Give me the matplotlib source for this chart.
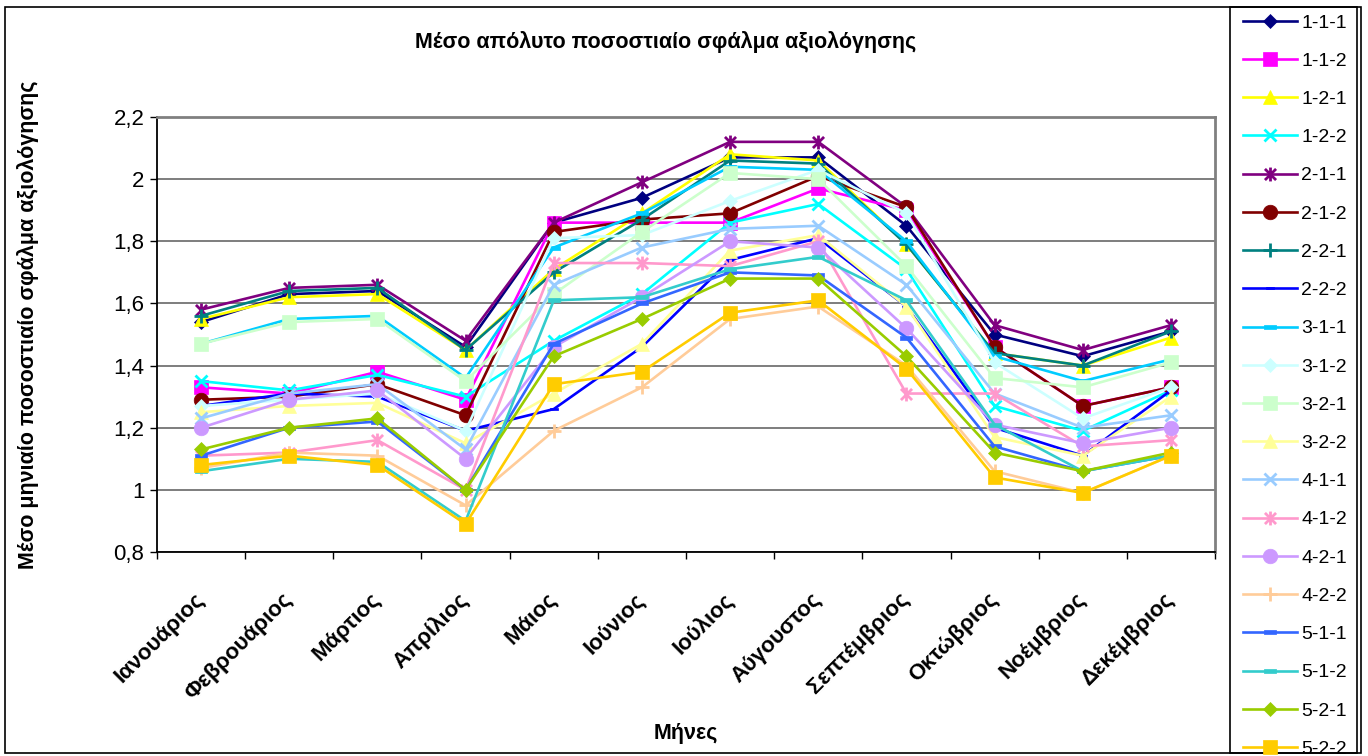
import matplotlib
matplotlib.use("Agg")
import matplotlib.pyplot as plt
import matplotlib.patches as patches
from matplotlib.path import Path
from matplotlib.ticker import FuncFormatter, FixedLocator

plt.rcParams['font.family'] = ['Liberation Sans', 'DejaVu Sans']

# data
months = ['Ιανουάριος', 'Φεβρουάριος', 'Μάρτιος', 'Απρίλιος', 'Μάιος', 'Ιούνιος',
          'Ιούλιος', 'Αύγουστος', 'Σεπτέμβριος', 'Οκτώβριος', 'Νοέμβριος', 'Δεκέμβριος']
labels = ['1-1-1', '1-1-2', '1-2-1', '1-2-2', '2-1-1', '2-1-2', '2-2-1', '2-2-2',
          '3-1-1', '3-1-2', '3-2-1', '3-2-2', '4-1-1', '4-1-2', '4-2-1', '4-2-2',
          '5-1-1', '5-1-2', '5-2-1', '5-2-2']
s111 = [1.54, 1.63, 1.64, 1.46, 1.86, 1.94, 2.07, 2.07, 1.85, 1.50, 1.43, 1.51]
s112 = [1.33, 1.31, 1.38, 1.29, 1.86, 1.86, 1.86, 1.97, 1.90, 1.46, 1.27, 1.33]
s121 = [1.55, 1.62, 1.63, 1.45, 1.71, 1.89, 2.08, 2.06, 1.79, 1.44, 1.40, 1.49]
s122 = [1.35, 1.32, 1.37, 1.30, 1.48, 1.63, 1.86, 1.92, 1.71, 1.27, 1.19, 1.32]
s211 = [1.58, 1.65, 1.66, 1.48, 1.86, 1.99, 2.12, 2.12, 1.91, 1.53, 1.45, 1.53]
s212 = [1.29, 1.30, 1.34, 1.24, 1.83, 1.87, 1.89, 2.01, 1.91, 1.46, 1.27, 1.33]
s221 = [1.56, 1.64, 1.65, 1.45, 1.70, 1.87, 2.06, 2.05, 1.79, 1.44, 1.40, 1.51]
s222 = [1.27, 1.31, 1.30, 1.19, 1.26, 1.46, 1.74, 1.81, 1.59, 1.20, 1.11, 1.32]
s311 = [1.47, 1.55, 1.56, 1.36, 1.78, 1.89, 2.04, 2.03, 1.80, 1.43, 1.35, 1.42]
s312 = [1.27, 1.29, 1.31, 1.19, 1.81, 1.82, 1.93, 2.03, 1.89, 1.41, 1.23, 1.33]
s321 = [1.47, 1.54, 1.55, 1.35, 1.63, 1.83, 2.02, 2.00, 1.72, 1.36, 1.33, 1.41]
s322 = [1.25, 1.27, 1.28, 1.15, 1.31, 1.47, 1.77, 1.82, 1.59, 1.17, 1.11, 1.30]
s411 = [1.23, 1.31, 1.34, 1.13, 1.66, 1.78, 1.84, 1.85, 1.66, 1.31, 1.20, 1.24]
s412 = [1.11, 1.12, 1.16, 1.00, 1.73, 1.73, 1.72, 1.80, 1.31, 1.31, 1.14, 1.16]
s421 = [1.20, 1.29, 1.32, 1.10, 1.46, 1.62, 1.80, 1.78, 1.52, 1.21, 1.15, 1.20]
s422 = [1.07, 1.12, 1.11, 0.95, 1.19, 1.33, 1.55, 1.59, 1.40, 1.06, 0.99, 1.11]
s511 = [1.11, 1.20, 1.22, 1.00, 1.47, 1.60, 1.70, 1.69, 1.49, 1.14, 1.06, 1.11]
s512 = [1.06, 1.10, 1.09, 0.90, 1.61, 1.62, 1.71, 1.75, 1.61, 1.21, 1.06, 1.11]
s521 = [1.13, 1.20, 1.23, 1.00, 1.43, 1.55, 1.68, 1.68, 1.43, 1.12, 1.06, 1.12]
s522 = [1.08, 1.11, 1.08, 0.89, 1.34, 1.38, 1.57, 1.61, 1.39, 1.04, 0.99, 1.11]
series = [s111, s112, s121, s122, s211, s212, s221, s222, s311, s312,
          s321, s322, s411, s412, s421, s422, s511, s512, s521, s522]
yticks = [0.8, 1.0, 1.2, 1.4, 1.6, 1.8, 2.0, 2.2]

# excel style markers
star = Path([(0, -1), (0, 1), (-0.8, -0.8), (0.8, 0.8), (-0.8, 0.8), (0.8, -0.8)],
            [Path.MOVETO, Path.LINETO, Path.MOVETO, Path.LINETO, Path.MOVETO, Path.LINETO])
dash = [(-1, -0.35), (1, -0.35), (1, 0.35), (-1, 0.35), (-1, -0.35)]
colors = ['#000080', '#FF00FF', '#FFFF00', '#00FFFF', '#800080', '#800000', '#008080', '#0000FF',
          '#00CCFF', '#CCFFFF', '#CCFFCC', '#FFFF99', '#99CCFF', '#FF99CC', '#CC99FF', '#FFCC99',
          '#3366FF', '#33CCCC', '#99CC00', '#FFCC00']
markers = ['D', 's', '^', 'x', star, 'o', '+', dash, dash, 'D', 's', '^', 'x', star, 'o', '+',
           dash, dash, 'D', 's']
msizes = [7, 10, 10, 9, 10, 10.5, 10, 6, 8, 7, 10, 10, 9, 10, 10.5, 10, 8, 8, 7, 10]

W, H = 1368, 756
fig = plt.figure(figsize=(W / 100, H / 100), dpi=100)
fig.patch.set_facecolor('white')

def fx(px): return px / W
def fy(py): return 1 - py / H

# chart area and legend frames
fig.add_artist(patches.Rectangle((fx(5), fy(753)), fx(1361) - fx(5), fy(7) - fy(753),
                                 transform=fig.transFigure, fill=False, ec='black', lw=1.2))
fig.add_artist(patches.Rectangle((fx(1230), fy(753)), fx(1357) - fx(1230), fy(7) - fy(753),
                                 transform=fig.transFigure, fill=False, ec='black', lw=1.2))

ax = fig.add_axes([fx(157), fy(552), fx(1215) - fx(157), fy(117) - fy(552)])
x = list(range(len(months)))
handles = []
for vals, lab, c, m, ms in zip(series, labels, colors, markers, msizes):
    h, = ax.plot(x, vals, color=c, lw=1.9, marker=m, markersize=ms, markerfacecolor=c,
                 markeredgecolor=c, markeredgewidth=2 if m in ('x', '+') or m is star else 0.5,
                 label=lab, clip_on=False)
    handles.append(h)

ax.set_xlim(-0.5, 11.5)
ax.set_ylim(0.8, 2.2)
ax.yaxis.set_major_locator(FixedLocator(yticks))
ax.yaxis.set_major_formatter(FuncFormatter(lambda v, p: f'{v:g}'.replace('.', ',')))
ax.grid(axis='y', color='#5a5a5a', lw=1.1)
ax.set_axisbelow(True)
ax.tick_params(axis='y', direction='out', length=5, width=1, pad=4, labelsize=16)

# category labels at centres, tick marks between categories
ax.set_xticks([i - 0.5 for i in range(13)])
ax.set_xticklabels([])
ax.set_xticks(x, minor=True)
ax.set_xticklabels(months, minor=True, rotation=45, ha='right', va='center',
                   rotation_mode='anchor', fontweight='bold', fontsize=16)
ax.tick_params(axis='x', which='major', direction='out', length=5, width=1)
ax.tick_params(axis='x', which='minor', length=0, pad=32)

for side in ('top', 'right'):
    ax.spines[side].set_color('#808080')
    ax.spines[side].set_linewidth(2)
ax.spines['left'].set_linewidth(1.3)
ax.spines['bottom'].set_linewidth(1.3)

fig.text(fx(666), fy(42), 'Μέσο απόλυτο ποσοστιαίο σφάλμα αξιολόγησης',
         ha='center', va='center', fontsize=15.5, fontweight='bold')
fig.text(fx(28), fy(325), 'Μέσο μηνιαίο ποσοστιαίο σφάλμα αξιολόγησης',
         ha='center', va='center', rotation=90, fontsize=15.5, fontweight='bold')
fig.text(fx(686), fy(733), 'Μήνες', ha='center', va='center', fontsize=15.5, fontweight='bold')

fig.legend(handles=handles, loc='upper left', bbox_to_anchor=(fx(1243), fy(14)),
           frameon=False, fontsize=14, handlelength=2.8, handletextpad=0.2,
           labelspacing=1.06, borderpad=0, borderaxespad=0)

fig.savefig('out.png', dpi=100)
